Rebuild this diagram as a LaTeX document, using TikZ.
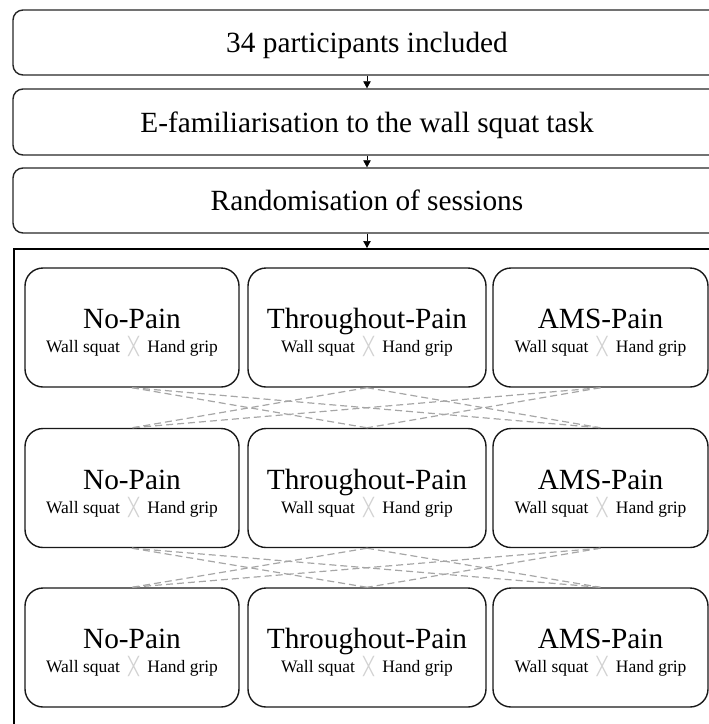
\documentclass[tikz,border=0pt]{standalone}
\usepackage{fontspec}
\setmainfont{Liberation Serif}
\newfontfamily\djv{DejaVu Sans}
\usetikzlibrary{arrows.meta}
\newcommand\cellX{{\djv\color{gray!35}╳}}
\begin{document}
\begin{tikzpicture}[x=1pt,y=-1pt,
  topbox/.style={draw=black!85, line width=1.4pt, rounded corners=10pt, minimum width=708pt, minimum height=65pt, inner sep=0pt, text height=20pt, text depth=0pt, font=\fontsize{29.3}{34}\selectfont},
  cellbox/.style={draw=black!90, line width=1.4pt, rounded corners=18pt, minimum height=119pt, inner sep=0pt},
  paneltitle/.style={anchor=base, inner sep=0pt, font=\fontsize{29.3}{34}\selectfont},
  panelsub/.style={anchor=base, inner sep=0pt, font=\fontsize{17.5}{20}\selectfont},
  flow/.style={-{Triangle[length=7pt,width=7.5pt]}, line width=0.7pt},
  cross/.style={draw=gray!70, dash pattern=on 7pt off 4pt, line width=1.2pt},
  frame/.style={draw=black, line width=1.5pt, inner sep=0pt}
]
\useasboundingbox (0,0) rectangle (709,724);

\node[topbox] (b1) at (367,42.5) {34 participants included};
\node[topbox, minimum height=66pt] (b2) at (367,122) {E-familiarisation to the wall squat task};
\node[topbox] (b3) at (367,200.5) {Randomisation of sessions};

\node[frame, minimum width=710pt, minimum height=500pt, anchor=north west] (panel) at (13,248) {};

\draw[flow] (b1) -- (b2);
\draw[flow] (b2) -- (b3);
\draw[flow] (b3.south) -- (b3.south |- panel.north);

\foreach \r/\cy in {1/327.5, 2/488, 3/647.5}{
  \foreach \c/\cx/\w/\t in {1/132/214/No-Pain, 2/367/238/Throughout-Pain, 3/600.5/215/AMS-Pain}{
    \node[cellbox, minimum width=\w pt] (r\r c\c) at (\cx,\cy) {};
    \node[paneltitle] (t\r c\c) at (\cx,\cy+1) {\t};
    \node[panelsub] (s\r c\c) at (\cx,\cy+25) {Wall squat\hspace{8.5pt}\cellX\hspace{8.5pt}Hand grip};
  }
}

\foreach \a/\b in {1/2,2/3}{
  \foreach \i in {1,2,3}{
    \foreach \j in {1,2,3}{
      \ifnum\i=\j\else
        \draw[cross] (r\a c\i.south) -- (r\b c\j.north);
      \fi
    }
  }
}
\end{tikzpicture}
\end{document}
